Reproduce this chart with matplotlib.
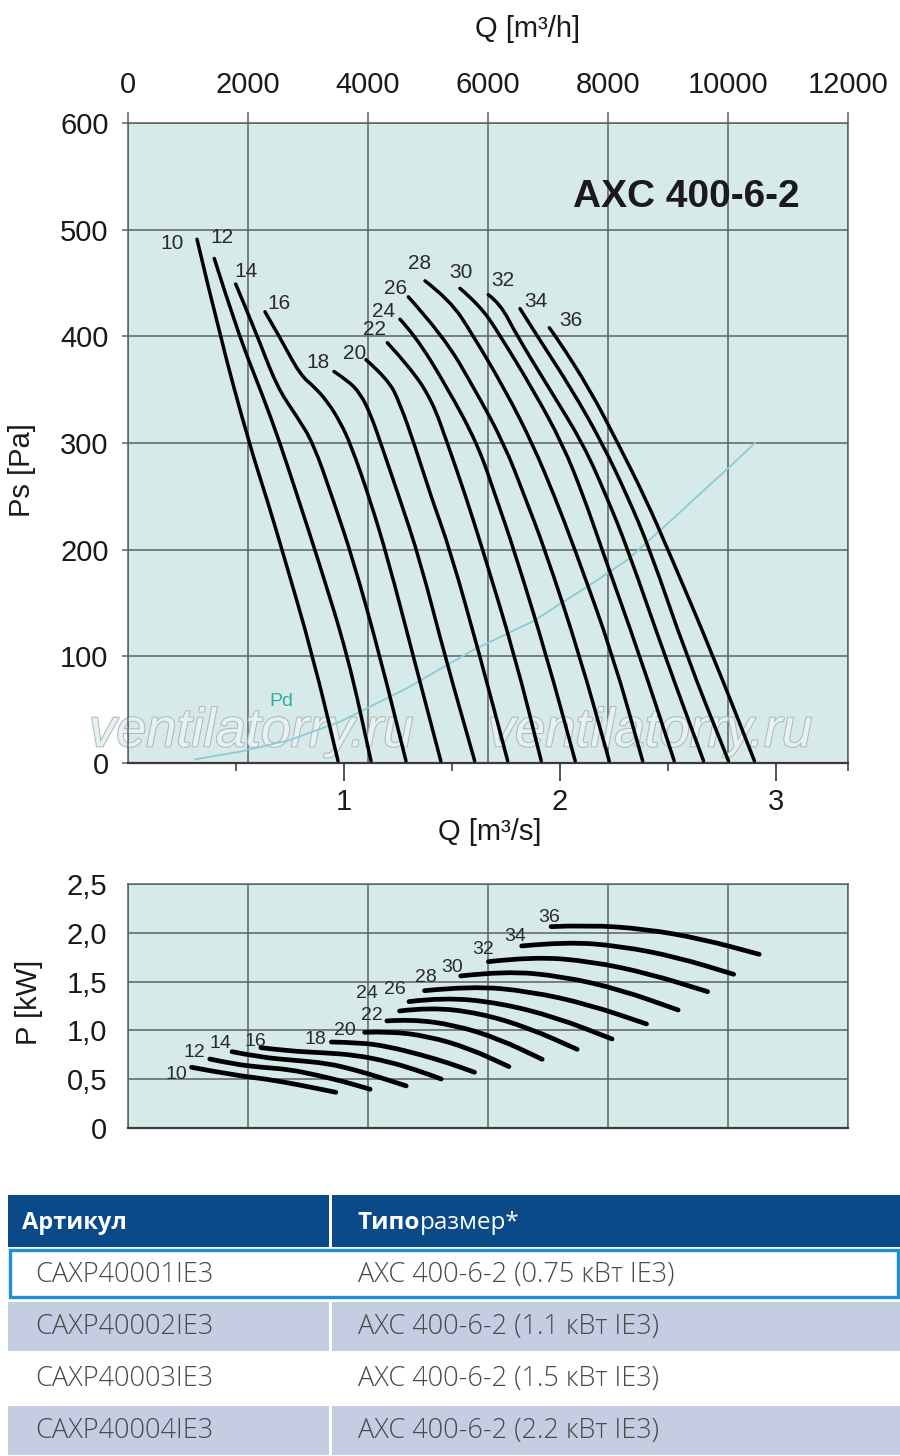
import matplotlib
matplotlib.use("Agg")
import matplotlib.pyplot as plt
import matplotlib.patheffects as pe
from matplotlib.patches import Rectangle, PathPatch
from matplotlib.path import Path

# ---------------- data ----------------
angles = [10, 12, 14, 16, 18, 20, 22, 24, 26, 28, 30, 32, 34, 36]

# static pressure curves: Q [m3/h], Ps [Pa]
ps10_q = [1150, 1533, 2017, 2317, 2567, 3083, 3500]
ps10_p = [491, 400, 300, 247, 200, 100, 2]
ps12_q = [1438, 1812, 2255, 2533, 2842, 3172, 3667, 4050]
ps12_p = [473, 406, 343, 300, 247, 190, 100, 2]
ps14_q = [1795, 2117, 2478, 2812, 3088, 3417, 3755, 4200, 4633]
ps14_p = [449, 406, 353, 325, 300, 247, 190, 100, 2]
ps16_q = [2283, 2533, 2867, 3117, 3333, 3533, 3717, 4033, 4338, 4755, 5213]
ps16_p = [423, 399, 364, 352, 338, 320, 298, 247, 190, 100, 2]
ps18_q = [3433, 3650, 3867, 4050, 4217, 4533, 4867, 5283, 5778]
ps18_p = [367, 359, 347, 326, 299, 247, 190, 100, 2]
ps20_q = [3967, 4333, 4533, 4772, 5067, 5367, 5867, 6328]
ps20_p = [378, 360, 337, 299, 247, 200, 100, 2]
ps22_q = [4322, 4700, 5067, 5328, 5617, 5900, 6450, 6887]
ps22_p = [394, 371, 340, 299, 252, 202, 100, 2]
ps24_q = [4533, 4783, 5300, 5828, 6133, 6433, 6978, 7453]
ps24_p = [416, 401, 354, 299, 249, 200, 100, 2]
ps26_q = [4672, 5250, 5783, 6272, 6617, 6950, 7533, 8020]
ps26_p = [437, 401, 350, 299, 249, 200, 100, 2]
ps28_q = [4950, 5367, 5750, 6283, 6745, 7117, 7450, 8088, 8577]
ps28_p = [452, 434, 401, 350, 299, 249, 200, 100, 2]
ps30_q = [5533, 5867, 6200, 6750, 7245, 7600, 7900, 8533, 9103]
ps30_p = [445, 429, 401, 350, 299, 249, 200, 100, 2]
ps32_q = [6005, 6200, 6478, 7033, 7588, 7983, 8333, 8950, 9592]
ps32_p = [439, 431, 401, 350, 299, 249, 200, 100, 2]
ps34_q = [6533, 6812, 7400, 7912, 8333, 8700, 9312, 10008]
ps34_p = [426, 401, 350, 299, 249, 200, 100, 2]
ps36_q = [7022, 7145, 7700, 8172, 8617, 9000, 9755, 10440]
ps36_p = [408, 399, 350, 299, 249, 200, 100, 2]

# curve label positions (Q, Ps)
ps_label_q = [728, 1562, 1967, 2522, 3172, 3783, 4100, 4255, 4467, 4855, 5545, 6255, 6795, 7383]
ps_label_p = [487, 493, 461, 431, 375, 384, 406, 423, 445, 468, 460, 452, 433, 415]

# dynamic pressure Pd
pd_q = [1125, 1867, 2700, 3533, 4645, 5755, 6755, 7728, 8312, 8867, 10033, 10450]
pd_p = [3.5, 10.6, 21.6, 38.7, 70, 106, 133, 168, 190, 218, 278, 300]

# power curves: Q [m3/h], P [kW]
pw10_q = [1058, 1752, 2307, 2861, 3463]
pw10_p = [0.622, 0.543, 0.502, 0.441, 0.366]
pw12_q = [1363, 1752, 2214, 2676, 3139, 3601, 4036]
pw12_p = [0.707, 0.656, 0.622, 0.601, 0.543, 0.475, 0.397]
pw14_q = [1733, 2214, 2769, 3324, 3786, 4249, 4637]
pw14_p = [0.782, 0.724, 0.694, 0.663, 0.595, 0.509, 0.431]
pw16_q = [2214, 2676, 3231, 3786, 4341, 4804, 5220]
pw16_p = [0.823, 0.789, 0.772, 0.748, 0.680, 0.595, 0.502]
pw18_q = [3389, 3879, 4341, 4896, 5359, 5775]
pw18_p = [0.881, 0.875, 0.834, 0.748, 0.663, 0.571]
pw20_q = [3944, 4341, 5007, 5682, 6349]
pw20_p = [0.980, 0.991, 0.940, 0.817, 0.629]
pw22_q = [4314, 4711, 5442, 6173, 6903]
pw22_p = [1.097, 1.114, 1.056, 0.916, 0.704]
pw24_q = [4526, 5035, 5849, 6672, 7486]
pw24_p = [1.199, 1.237, 1.179, 1.028, 0.806]
pw26_q = [4683, 5266, 6200, 7134, 8068]
pw26_p = [1.295, 1.339, 1.281, 1.134, 0.912]
pw28_q = [4942, 5729, 6700, 7671, 8642]
pw28_p = [1.407, 1.455, 1.400, 1.267, 1.066]
pw30_q = [5544, 6284, 7245, 8207, 9169]
pw30_p = [1.558, 1.609, 1.554, 1.418, 1.209]
pw32_q = [6006, 6746, 7717, 8688, 9660]
pw32_p = [1.704, 1.756, 1.708, 1.581, 1.397]
pw34_q = [6561, 7301, 8235, 9160, 10094]
pw34_p = [1.865, 1.909, 1.862, 1.749, 1.575]
pw36_q = [7051, 7671, 8624, 9567, 10520]
pw36_p = [2.063, 2.080, 2.039, 1.937, 1.780]

pw_label_q = [809, 1103, 1548, 2122, 3120, 3620, 4063, 3990, 4452, 4960, 5405, 5913, 6450, 7023]
pw_label_p = [0.550, 0.776, 0.864, 0.891, 0.902, 1.004, 1.148, 1.380, 1.414, 1.544, 1.646, 1.824, 1.967, 2.158]

q_ticks = [0, 2000, 4000, 6000, 8000, 10000, 12000]
ps_ticks = [0, 100, 200, 300, 400, 500, 600]
qs_ticks = [1, 2, 3]
qs_minor = [0.5, 1.5, 2.5, 12000 / 3600]
pw_ticks = [0, 0.5, 1.0, 1.5, 2.0, 2.5]
pw_tick_labels = ["0", "0,5", "1,0", "1,5", "2,0", "2,5"]

title = "AXC 400-6-2"
watermark = "ventilatorry.ru"

table_header = ["Артикул", "Типо", "размер*"]
articles = ["CAXP40001IE3", "CAXP40002IE3", "CAXP40003IE3", "CAXP40004IE3"]
sizes = ["AXC 400-6-2 (0.75 кВт IE3)", "AXC 400-6-2 (1.1 кВт IE3)",
         "AXC 400-6-2 (1.5 кВт IE3)", "AXC 400-6-2 (2.2 кВт IE3)"]

ps_curves = [(ps10_q, ps10_p), (ps12_q, ps12_p), (ps14_q, ps14_p), (ps16_q, ps16_p),
             (ps18_q, ps18_p), (ps20_q, ps20_p), (ps22_q, ps22_p), (ps24_q, ps24_p),
             (ps26_q, ps26_p), (ps28_q, ps28_p), (ps30_q, ps30_p), (ps32_q, ps32_p),
             (ps34_q, ps34_p), (ps36_q, ps36_p)]
pw_curves = [(pw10_q, pw10_p), (pw12_q, pw12_p), (pw14_q, pw14_p), (pw16_q, pw16_p),
             (pw18_q, pw18_p), (pw20_q, pw20_p), (pw22_q, pw22_p), (pw24_q, pw24_p),
             (pw26_q, pw26_p), (pw28_q, pw28_p), (pw30_q, pw30_p), (pw32_q, pw32_p),
             (pw34_q, pw34_p), (pw36_q, pw36_p)]

# ---------------- style ----------------
plt.rcParams['font.family'] = ['Liberation Sans', 'DejaVu Sans']
BG = '#d6ebe9'
GRID = '#5c6162'
W, H = 900, 1456


def fx(px):
    return px / W


def fy(py):
    return 1 - py / H


def smooth_curve(ax, q, p, lw):
    """Quadratic-Bezier path with the read points as control polygon."""
    verts = [(q[0], p[0])]
    codes = [Path.MOVETO]
    for i in range(1, len(q) - 1):
        verts += [(q[i], p[i]), ((q[i] + q[i + 1]) / 2.0, (p[i] + p[i + 1]) / 2.0)]
        codes += [Path.CURVE3, Path.CURVE3]
    verts.append((q[-1], p[-1]))
    codes.append(Path.LINETO)
    patch = PathPatch(Path(verts, codes), facecolor='none', edgecolor='black', lw=lw,
                      capstyle='round', joinstyle='round', zorder=4)
    ax.add_patch(patch)


fig = plt.figure(figsize=(9, 14.56), dpi=100)
fig.patch.set_facecolor('white')

# ---------------- top chart ----------------
ax1 = fig.add_axes([fx(128), fy(763), fx(848) - fx(128), fy(123) - fy(763)])
ax1.set_facecolor(BG)
ax1.set_xlim(0, 12000)
ax1.set_ylim(0, 600)
ax1.set_xticks(q_ticks)
ax1.set_xticklabels([str(v) for v in q_ticks])
ax1.set_yticks(ps_ticks)
ax1.xaxis.tick_top()
ax1.grid(True, color=GRID, lw=1.1)
ax1.set_axisbelow(True)
ax1.tick_params(axis='x', top=True, bottom=False, length=8, width=1.1, color=GRID,
                pad=9.5, labelsize=21, labelcolor='#1a1a1a')
ax1.tick_params(axis='y', length=4, width=1.1, color=GRID, pad=10, labelsize=21,
                labelcolor='#1a1a1a')
for s in ['top', 'left', 'right']:
    ax1.spines[s].set_color(GRID)
    ax1.spines[s].set_linewidth(1.1)
ax1.spines['bottom'].set_color('#3a3a3a')
ax1.spines['bottom'].set_linewidth(1.6)

sec = ax1.secondary_xaxis('bottom', functions=(lambda q: q / 3600.0, lambda s: s * 3600.0))
sec.set_xticks(qs_ticks, [str(v) for v in qs_ticks])
sec.set_xticks(qs_minor, minor=True)
sec.tick_params(which='major', length=13, width=1.3, color='#444444', labelsize=21,
                pad=5, labelcolor='#1a1a1a')
sec.tick_params(which='minor', length=6, width=1.2, color='#444444')
sec.spines['bottom'].set_visible(False)

for wx in [0.171, 0.725]:
    ax1.text(wx, 0.048, watermark, transform=ax1.transAxes, fontsize=39,
             style='italic', ha='center', va='center', color='#e6f2f1',
             zorder=1.5, clip_on=False,
             path_effects=[pe.withStroke(linewidth=1.5, foreground='#b0b9b9')])

ax1.plot(pd_q, pd_p, color='#8ccad8', lw=1.3, zorder=2)
ax1.text(2562, 58, 'Pd', color='#2ab3a3', fontsize=14, ha='center', va='center', zorder=3)

for (q, p) in ps_curves:
    smooth_curve(ax1, q, p, 2.5)
for a, lq, lp in zip(angles, ps_label_q, ps_label_p):
    ax1.text(lq, lp, str(a), fontsize=15, ha='center', va='center', color='#2a2a2a', zorder=5)

ax1.text(0.776, 0.884, title, transform=ax1.transAxes, fontsize=28, fontweight='bold',
         ha='center', va='center', color='#1a1a1a')

fig.text(fx(22), fy(470), 'Ps [Pa]', rotation=90, fontsize=21, ha='center', va='center',
         color='#1a1a1a')
fig.text(fx(528), fy(29), 'Q [m³/h]', fontsize=21, ha='center', va='center', color='#1a1a1a')
fig.text(fx(490), fy(832), 'Q [m³/s]', fontsize=21, ha='center', va='center', color='#1a1a1a')

# ---------------- power chart ----------------
ax2 = fig.add_axes([fx(128), fy(1128), fx(848) - fx(128), fy(884) - fy(1128)])
ax2.set_facecolor(BG)
ax2.set_xlim(0, 12000)
ax2.set_ylim(0, 2.5)
ax2.set_xticks(q_ticks)
ax2.set_xticklabels([])
ax2.set_yticks(pw_ticks)
ax2.set_yticklabels(pw_tick_labels)
ax2.grid(True, color=GRID, lw=1.1)
ax2.set_axisbelow(True)
ax2.tick_params(axis='x', length=0)
ax2.tick_params(axis='y', length=0, pad=15, labelsize=21, labelcolor='#1a1a1a')
for s in ['top', 'left', 'right']:
    ax2.spines[s].set_color(GRID)
    ax2.spines[s].set_linewidth(1.1)
ax2.spines['bottom'].set_color('#3a3a3a')
ax2.spines['bottom'].set_linewidth(1.6)

for (q, p) in pw_curves:
    smooth_curve(ax2, q, p, 3.4)
for a, lq, lp in zip(angles, pw_label_q, pw_label_p):
    ax2.text(lq, lp, str(a), fontsize=14, ha='center', va='center', color='#2a2a2a', zorder=5)

fig.text(fx(29), fy(1002), 'P [kW]', rotation=90, fontsize=21, ha='center', va='center',
         color='#1a1a1a')

# ---------------- table ----------------
HEAD = '#0b4a88'
LAV = '#c4cde2'
BORDER = '#1d8fd6'


def rect(x0, y0, x1, y1, **kw):
    r = Rectangle((fx(x0), fy(y1)), fx(x1) - fx(x0), fy(y0) - fy(y1),
                  transform=fig.transFigure, **kw)
    fig.patches.append(r)


rect(8, 1195, 900, 1247, facecolor=HEAD, edgecolor='none')
rect(329, 1195, 332, 1247, facecolor='white', edgecolor='none')
rect(8, 1302, 900, 1351, facecolor=LAV, edgecolor='none')
rect(329, 1302, 332, 1351, facecolor='white', edgecolor='none')
rect(8, 1406, 900, 1455, facecolor=LAV, edgecolor='none')
rect(329, 1406, 332, 1455, facecolor='white', edgecolor='none')
rect(10, 1250, 898, 1297, facecolor='white', edgecolor=BORDER, linewidth=2.4)

TF = ['Open Sans', 'DejaVu Sans']
fig.text(fx(22), fy(1223), table_header[0], family=TF, fontsize=17, fontweight='bold',
         color='white', ha='left', va='center')
t_bold = fig.text(fx(358), fy(1223), table_header[1], family=TF, fontsize=17.5,
                  fontweight='bold', color='white', ha='left', va='center')
fig.canvas.draw()
bb = t_bold.get_window_extent(renderer=fig.canvas.get_renderer())
fig.text(bb.x1 / fig.bbox.width, fy(1223), table_header[2], family=TF, fontsize=17.5,
         fontweight='normal', color='white', ha='left', va='center')

row_y = [1275, 1327, 1379, 1431]
for art, sz, yy in zip(articles, sizes, row_y):
    fig.text(fx(35), fy(yy), art, family=TF, fontsize=19.5, fontweight='light',
             color='#4a4a4a', ha='left', va='center')
    fig.text(fx(358), fy(yy), sz, family=TF, fontsize=19.5, fontweight='light',
             color='#4a4a4a', ha='left', va='center')

fig.savefig('out.png', dpi=100, facecolor='white')
